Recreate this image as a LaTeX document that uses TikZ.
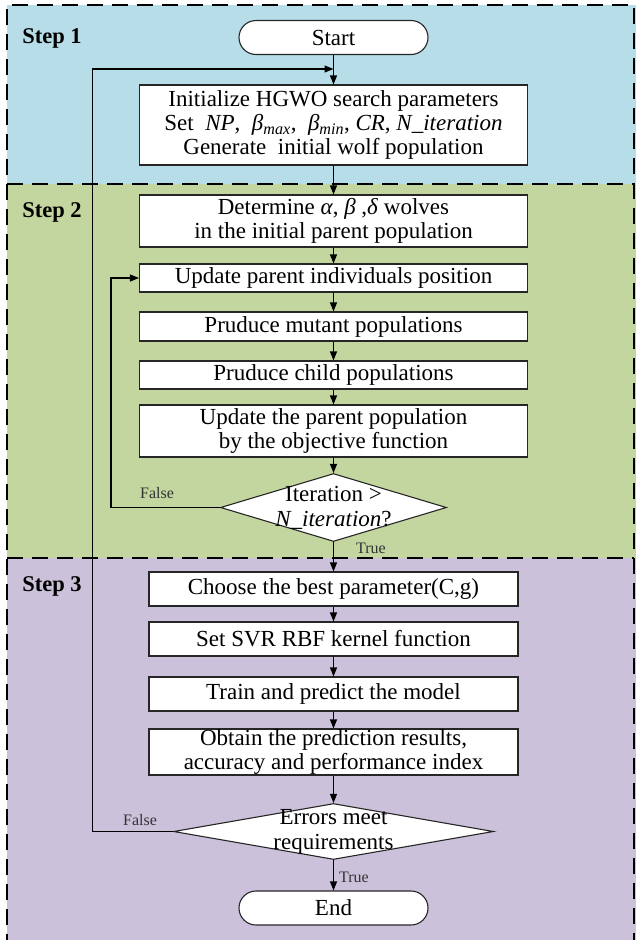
\documentclass[tikz,border=0pt]{standalone}
\usepackage{fontspec}
\setmainfont{Liberation Serif}
\usetikzlibrary{shapes.geometric,arrows.meta}
\definecolor{sOne}{HTML}{B7DDE8}
\definecolor{sTwo}{HTML}{C4D69F}
\definecolor{sThree}{HTML}{CCC1DA}
\begin{document}
\begin{tikzpicture}[x=1pt,y=-1pt,
 proc/.style={draw=black!85, fill=white, line width=1.1pt, inner sep=0pt, align=center, font=\fontsize{23}{24}\selectfont},
 term/.style={proc, rounded corners=17pt},
 dia/.style={diamond, draw=black!85, fill=white, line width=1.1pt, inner sep=0pt},
 diatext/.style={align=center, inner sep=0pt, font=\fontsize{23}{25}\selectfont},
 conn/.style={line width=1.1pt, -{Triangle[length=9pt,width=7pt]}},
 lbl/.style={font=\fontsize{16}{18}\selectfont, text=black!80, inner sep=0pt},
 steplbl/.style={font=\fontsize{22.5}{24}\selectfont\bfseries, inner sep=0pt},
 region/.style={dash pattern=on 16pt off 9pt, line width=2.5pt}
]
\useasboundingbox (0,0) rectangle (636,940);
\clip (0,0) rectangle (636,940);
% regions
\fill[sOne] (7,5) rectangle (636,184);
\fill[sTwo] (7,184) rectangle (636,558);
\fill[sThree] (7,558) rectangle (636,950);
\draw[region] (7,950) -- (7,5) -- (634,5) -- (634,950);
\draw[region] (7,184) -- (634,184);
\draw[region] (7,558) -- (634,558);
% step labels
\node[steplbl] (s1) at (52,38) {Step 1};
\node[steplbl] (s2) at (52,212) {Step 2};
\node[steplbl] (s3) at (52,586) {Step 3};
% nodes
\node[term, minimum width=189pt, minimum height=34pt] (start) at (333.5,37.5) {Start};
\node[proc, minimum width=388pt, minimum height=80pt] (init) at (333.5,125) {Initialize HGWO search parameters\\Set~ \textit{NP},~ \textit{β}\textsubscript{\textit{max}},~ \textit{β}\textsubscript{\textit{min}}, \textit{CR}, \textit{N\_iteration}\\Generate~ initial wolf population};
\node[proc, minimum width=388pt, minimum height=52pt] (det) at (333.5,221) {Determine \textit{α}, \textit{β} ,\textit{δ} wolves\\in the initial parent population};
\node[proc, minimum width=388pt, minimum height=28pt] (upd) at (333.5,278) {Update parent individuals position};
\node[proc, minimum width=388pt, minimum height=29pt] (mut) at (333.5,326.5) {Pruduce mutant populations};
\node[proc, minimum width=388pt, minimum height=28pt] (child) at (333.5,375) {Pruduce child populations};
\node[proc, minimum width=388pt, minimum height=52pt] (updpop) at (333.5,431) {Update the parent population\\by the objective function};
\node[dia, minimum width=226pt, minimum height=68pt] (d1) at (333.5,507.5) {};
\node[diatext] (d1t) at (333.5,507.5) {Iteration >\\\textit{N\_iteration}?};
\node[proc, minimum width=369pt, minimum height=34pt] (choose) at (333.5,589) {Choose the best parameter(C,g)};
\node[proc, minimum width=369pt, minimum height=34pt] (svr) at (333.5,639) {Set SVR RBF kernel function};
\node[proc, minimum width=369pt, minimum height=34pt] (train) at (333.5,694) {Train and predict the model};
\node[proc, minimum width=369pt, minimum height=46pt] (obtain) at (333.5,752) {Obtain the prediction results,\\accuracy and performance index};
\node[dia, minimum width=320pt, minimum height=56pt] (d2) at (333.5,831.5) {};
\node[diatext] (d2t) at (333.5,832) {Errors meet\\requirements};
\node[term, minimum width=189pt, minimum height=34pt] (end) at (333.5,908) {End};
% labels
\node[lbl] (f1) at (157,493) {False};
\node[lbl] (t1) at (371,548) {True};
\node[lbl] (f2) at (140,820) {False};
\node[lbl] (t2) at (354,877) {True};
% connectors
\coordinate (j1) at (333.5,69);
\draw[conn] (start) -- (init);
\draw[conn] (init) -- (det);
\draw[conn] (det) -- (upd);
\draw[conn] (upd) -- (mut);
\draw[conn] (mut) -- (child);
\draw[conn] (child) -- (updpop);
\draw[conn] (updpop) -- (d1);
\draw[conn] (d1) -- (choose);
\draw[conn] (choose) -- (svr);
\draw[conn] (svr) -- (train);
\draw[conn] (train) -- (obtain);
\draw[conn] (obtain) -- (d2);
\draw[conn] (d2) -- (end);
\draw[conn] (d1.west) -- ++(-109,0) |- (upd.west);
\draw[conn] (d2.west) -- ++(-80.5,0) |- (j1);
\end{tikzpicture}
\end{document}
